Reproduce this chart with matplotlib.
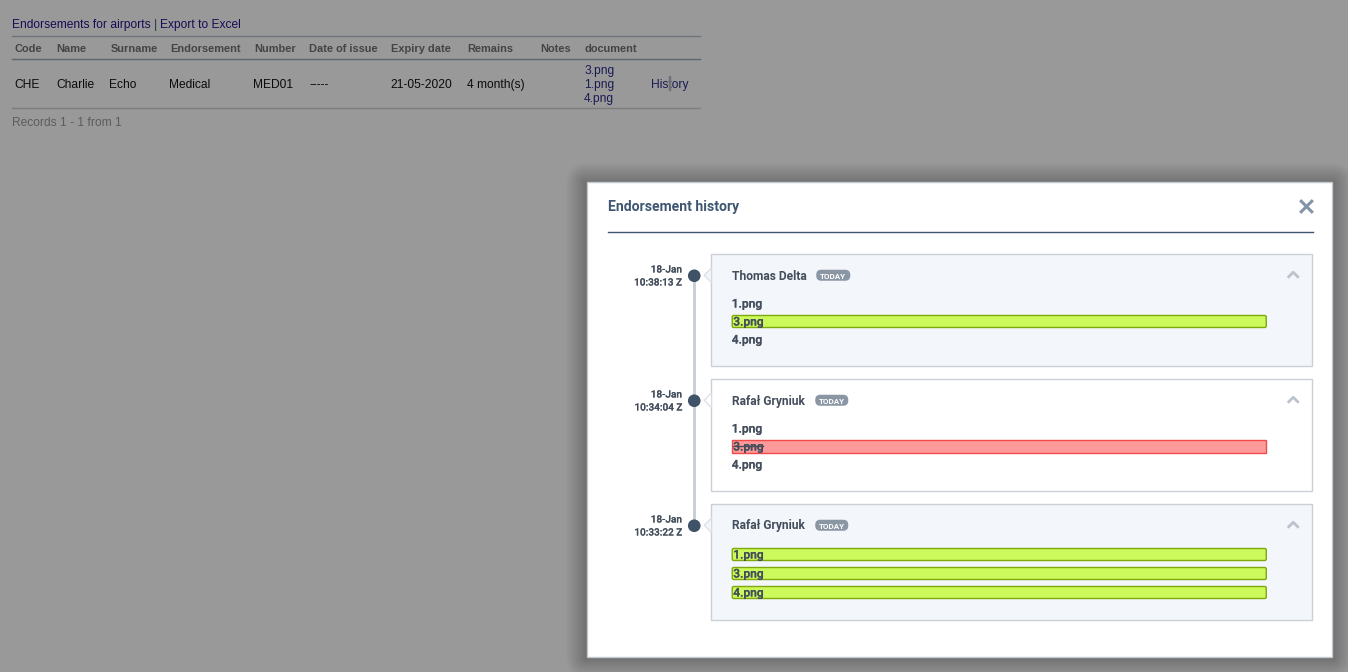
#Endorsement history dialog over a dimmed table
import matplotlib
matplotlib.use('Agg')
import matplotlib.pyplot as plt
import matplotlib.patheffects as pe
from matplotlib.patches import Rectangle, FancyBboxPatch, Polygon, Circle

W, H = 1348, 672

headers = ['Code', 'Name', 'Surname', 'Endorsement', 'Number', 'Date of issue',
           'Expiry date', 'Remains', 'Notes', 'document']
header_x = [14, 56, 110, 170, 254, 309, 391, 467, 540, 584]
row_values = ['CHE', 'Charlie', 'Echo', 'Medical', 'MED01', '-----', '21-05-2020', '4 month(s)']
row_x = [14, 56, 109, 169, 253, 309, 390, 467]
row_docs = ['3.png', '1.png', '4.png']

dates = ['18-Jan', '18-Jan', '18-Jan']
times = ['10:38:13 Z', '10:34:04 Z', '10:33:22 Z']
authors = ['Thomas Delta', 'Rafał Gryniuk', 'Rafał Gryniuk']
card_top = [254, 379, 504]
card_bottom = [367, 492, 621]
card_fill = ['#f3f6fb', '#ffffff', '#f3f6fb']
badge_x = [816, 815, 815]
card_files = [['1.png', '3.png', '4.png'], ['1.png', '3.png', '4.png'], ['1.png', '3.png', '4.png']]
card_rows = [[304, 322, 340], [429, 447, 465], [555, 574, 593]]
card_state = [[None, 'add', None], [None, 'del', None], ['add', 'add', 'add']]

fig = plt.figure(figsize=(W / 100, H / 100), dpi=100, facecolor='#999999')
ax = fig.add_axes([0, 0, 1, 1])
ax.set_xlim(0.75, W + 0.75)
ax.set_ylim(H + 0.75, 0.75)
ax.axis('off')

ARIAL = 'Liberation Sans'
ROBOTO = 'Roboto'
DARK = '#434d5b'
NAVY = '#3f5672'


def px(size):
    return size * 0.72


def label(x, y, s, size=12, color='black', family=ARIAL, weight='normal', ha='left', z=5, thick=0):
    t = ax.text(x + 1, y + 1.75, s, fontsize=px(size), color=color, family=family, weight=weight,
                ha=ha, va='center', zorder=z)
    if thick:
        t.set_path_effects([pe.withStroke(linewidth=thick, foreground=color)])
    return t


# table behind the overlay
label(12, 24, 'Endorsements for airports', color='#1a0a55')
label(153.5, 24, '|', color='#22344a')
label(160, 24, 'Export to Excel', color='#1a0a55')
ax.plot([12.5, 700.5], [36.5, 36.5], color='#6d7378', lw=1)
ax.plot([12.5, 700.5], [59.5, 59.5], color='#5c666e', lw=1)
ax.plot([12.5, 700.5], [108.5, 108.5], color='#7d7d7d', lw=1)
for x, s in zip(header_x, headers):
    label(x, 48, s, size=11, color='#444444', weight='bold')
for x, s in zip(row_x, row_values):
    label(x, 84, s, color='#0b0b0b')
for y, s in zip([70, 84, 98], row_docs):
    label(584, y, s, color='#1a1a55')
label(650.5, 84, 'History', color='#1a1a55')
ax.add_patch(Rectangle((670, 77), 1, 14, color='#6f6f78', zorder=6))
label(12, 122, 'Records 1 - 1 from 1', color='#5c5c5c')

# modal shadow, stacked translucent rectangles
for i in range(20, 0, -1):
    ax.add_patch(FancyBboxPatch((587 - i, 182 - i + 2), 746 + 2 * i, 476 + 2 * i - 2,
                                boxstyle='round,pad=0,rounding_size=%d' % i,
                                fc='black', ec='none', alpha=0.011, zorder=1))

# modal
ax.add_patch(Rectangle((587.5, 182.5), 745, 475, fc='white', ec='#c3c8d0', lw=1, zorder=2))
label(608, 205.5, 'Endorsement history', size=14, color=NAVY, family=ROBOTO, weight='bold')
ax.plot([1302, 1312.5], [202, 212.5], color='#8493a6', lw=2.2, zorder=5)
ax.plot([1302, 1312.5], [212.5, 202], color='#8493a6', lw=2.2, zorder=5)
ax.plot([608.5, 1313.5], [232.5, 232.5], color=NAVY, lw=1, zorder=3)

# timeline
ax.plot([695, 695], [276, 526], color='#c8cdd5', lw=2, zorder=3)

for i, author in enumerate(authors):
    top, bottom = card_top[i], card_bottom[i]
    mid = top + 22
    ax.add_patch(Rectangle((711.5, top + 0.5), 601, bottom - top - 1,
                           fc=card_fill[i], ec='#cbd0d6', lw=1, zorder=3))
    # little pointer towards the timeline dot
    ax.add_patch(Polygon([(712, mid - 7), (705, mid), (712, mid + 7)], closed=True,
                         fc=card_fill[i], ec='none', zorder=4))
    ax.plot([712, 705, 712], [mid - 7, mid, mid + 7], color='#dde0e5', lw=1, zorder=4)
    ax.add_patch(Circle((695, mid + 0.5), 6.3, fc='#3f5268', ec='none', zorder=5))

    label(682, mid - 7.5, dates[i], size=10, color=DARK, family=ROBOTO, weight='medium', ha='right', thick=0.1)
    label(682, mid + 5.5, times[i], size=10, color=DARK, family=ROBOTO, weight='medium', ha='right', thick=0.1)

    label(731.5, mid - 1, author, size=12, color=DARK, family=ROBOTO, weight='bold')
    bw = 34 if i == 0 else 33
    ax.add_patch(FancyBboxPatch((badge_x[i] + 6, mid - 0.5), bw - 10, 1,
                                boxstyle='round,pad=5,rounding_size=5',
                                fc='#8a96a3', ec='none', zorder=4))
    label(badge_x[i] + bw / 2, mid - 0.5, 'TODAY', size=8, color='white', family=ROBOTO,
          weight='bold', ha='center')

    ax.plot([1289.5, 1294, 1298.5], [mid + 1.5, mid - 3, mid + 1.5], color='#bcc3cc', lw=2, zorder=5)

    for name, y, state in zip(card_files[i], card_rows[i], card_state[i]):
        if state == 'add':
            ax.add_patch(FancyBboxPatch((733, y - 5.75), 534, 12,
                                        boxstyle='round,pad=0,rounding_size=1.5',
                                        fc='#ccf95c', ec='#7fa80a', lw=1, zorder=4))
            label(733, y - 1, name, color=DARK, family=ROBOTO, weight='medium', thick=0.15)
        elif state == 'del':
            ax.add_patch(Rectangle((733, y - 6.25), 534, 13, fc='#ff9a9a', ec='#f04a4a', lw=1, zorder=4))
            label(733, y - 1, name, color=DARK, family=ROBOTO, weight='medium', thick=0.15)
            ax.plot([733.5, 764], [y, y], color=DARK, lw=1, zorder=6)
        else:
            label(731.5, y - 1, name, color=DARK, family=ROBOTO, weight='medium', thick=0.15)

fig.savefig('out.png', dpi=100, facecolor=fig.get_facecolor())
